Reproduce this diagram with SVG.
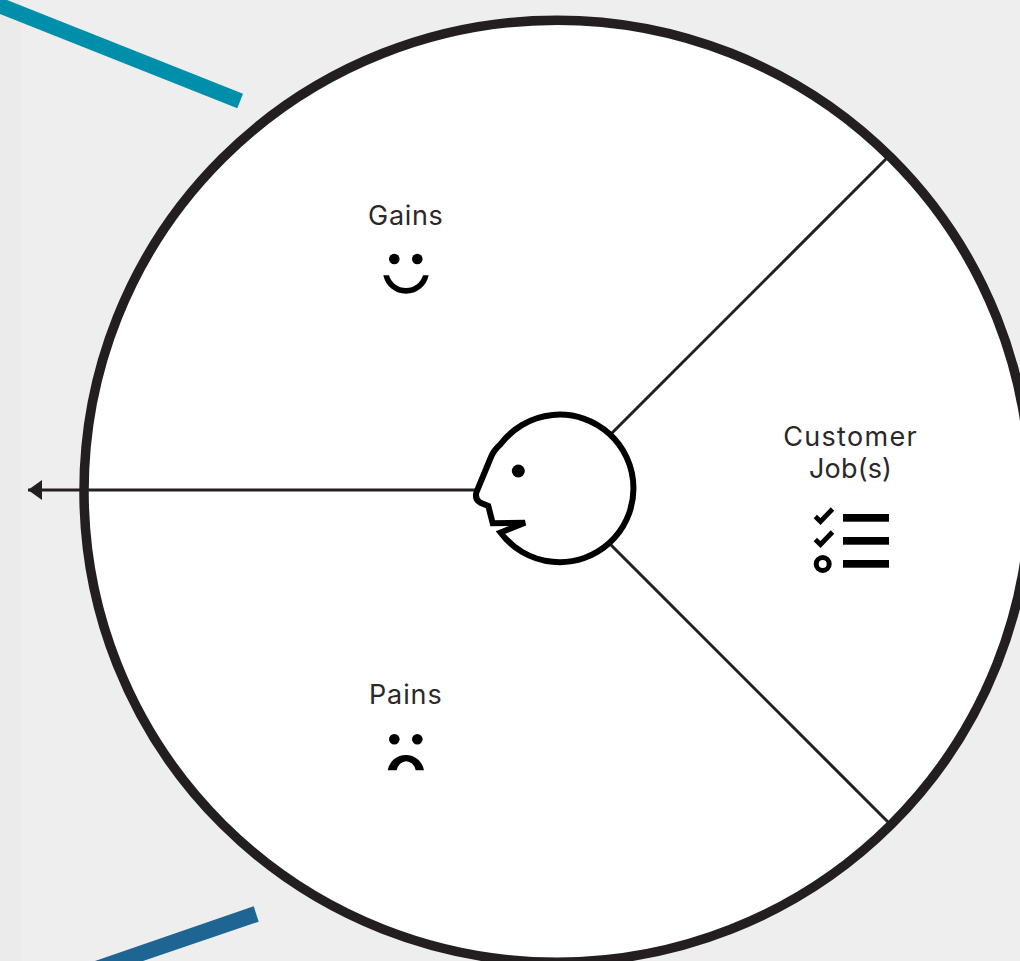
<svg xmlns="http://www.w3.org/2000/svg" width="1020" height="961" viewBox="0 0 1020 961">
<style>
.lbl{font-family:"Inter","Liberation Sans",sans-serif;font-size:27px;font-weight:400;fill:#2b2829;text-anchor:middle}
.spoke{fill:none;stroke:#231f20;stroke-width:3}
.bar{fill:#000}
.ink{fill:#000}
.chk{fill:none;stroke:#000;stroke-width:4.8}
</style>
<defs>
<marker id="arrow" markerUnits="userSpaceOnUse" markerWidth="16" markerHeight="22" refX="14" refY="10" orient="auto">
<path d="M14 10L0 0V20Z" fill="#231f20"/>
</marker>
</defs>
<rect id="background" width="1020" height="961" fill="#eeeeee"/>
<rect id="background-edge" width="22" height="961" fill="#ebebeb"/>
<g id="wedges">
<ellipse id="canvas" cx="557" cy="491.200" rx="473" ry="471" fill="#fff" stroke="#231f20" stroke-width="9.500"/>
</g>
<g id="connectors">
<polygon points="7,0 243,93.700 237.300,108.300 0,14 0,0" fill="#008fab"/>
<polygon points="253.700,906.300 258.700,921.700 143,961 95,961" fill="#1e6594"/>
<line class="spoke" x1="612" y1="433" x2="887" y2="158"/>
<line class="spoke" x1="611" y1="545" x2="888" y2="822"/>
<path class="spoke" d="M476 490H28" marker-end="url(#arrow)"/>
</g>
<g id="customer-head">
<path d="M500.500 444.300 A73.800 73.800 0 1 1 500.500 532.500 L525 522.700 L492.700 523.300 L488.300 506 L480 502.500 Q474.500 499 476.500 492 L491 457 Q494 450 500.500 444.300Z" fill="#fff" stroke="#000" stroke-width="6"/>
<circle class="ink" cx="518.300" cy="471" r="6.500"/>
</g>
<g id="gains">
<text class="lbl" x="405.800" y="224.500" letter-spacing="0.660">Gains</text>
<circle class="ink" cx="394.300" cy="259" r="5.300"/>
<circle class="ink" cx="417.300" cy="259" r="5.300"/>
<path class="ink" d="M383.300 275.300A23.200 23.200 0 0 0 428.700 275.300H423A17.700 17.700 0 0 1 389 275.300Z"/>
</g>
<g id="pains">
<text class="lbl" x="405.800" y="703.500" letter-spacing="0.900">Pains</text>
<circle class="ink" cx="394.300" cy="739.300" r="5.300"/>
<circle class="ink" cx="417.300" cy="739.300" r="5.300"/>
<path class="ink" d="M387.700 770.300A18.400 18.400 0 0 1 424 770.300H415.700A9.800 12 0 0 0 396.700 770.300Z"/>
</g>
<g id="customer-jobs">
<text class="lbl" x="850.600" y="445.500" letter-spacing="1.300">Customer</text>
<text class="lbl" x="850.600" y="477.500" letter-spacing="0.170">Job(s)</text>
<polyline class="chk" points="815.300,516.500 820.500,521.500 832.500,509"/>
<polyline class="chk" points="815.300,539.500 820.500,544.500 832.500,532"/>
<circle cx="822.700" cy="564" r="6.500" fill="none" stroke="#000" stroke-width="5"/>
<rect class="bar" x="843" y="514" width="46" height="7.700"/>
<rect class="bar" x="843" y="537" width="46" height="7.700"/>
<rect class="bar" x="843" y="560" width="46" height="7.700"/>
</g>
</svg>
